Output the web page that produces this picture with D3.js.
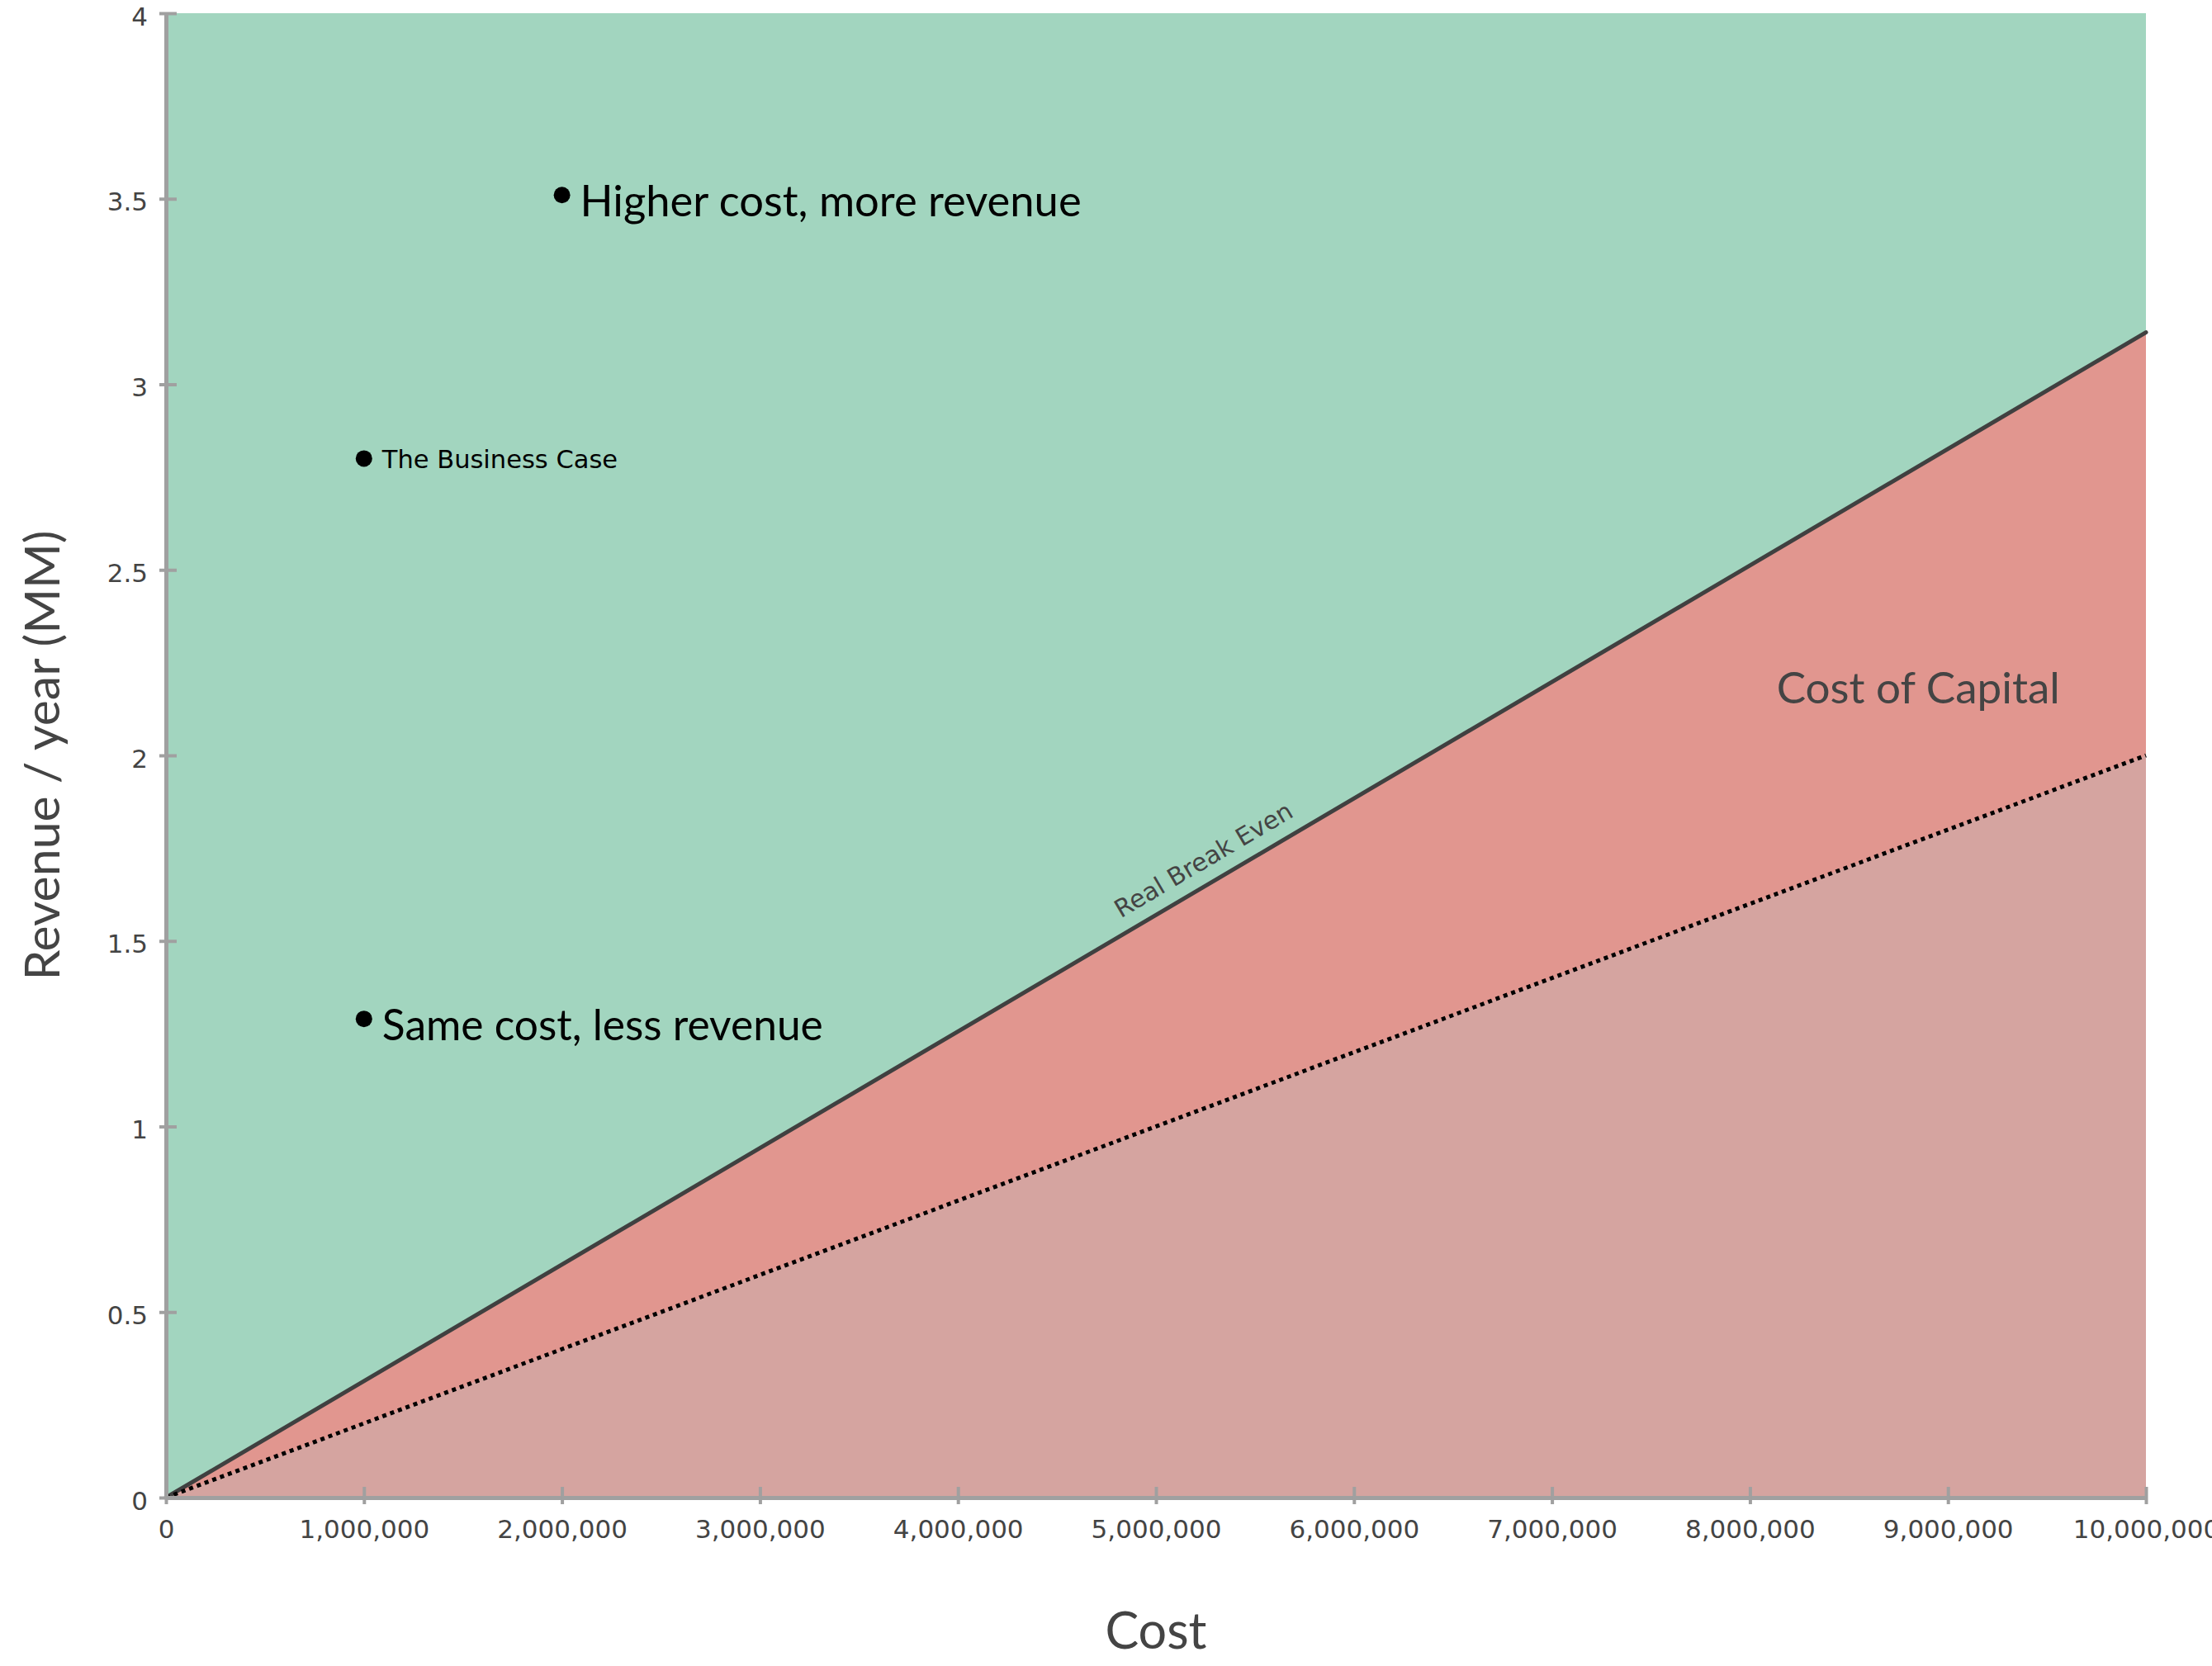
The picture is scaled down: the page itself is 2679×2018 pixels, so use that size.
<!DOCTYPE html>
<html>
<head>
<meta charset="utf-8">
<script src="https://cdn.jsdelivr.net/npm/d3@7"></script>
<style>
  html, body { margin: 0; padding: 0; background: #ffffff; }
  svg { display: block; }
</style>
</head>
<body>
<svg id="chart" width="2679" height="2018"></svg>
<script>
// Axis domains and tick values
const costDomain = [0, 10000000];
const revenueDomain = [0, 4];
const xTickValues = [0, 1000000, 2000000, 3000000, 4000000, 5000000, 6000000, 7000000, 8000000, 9000000, 10000000];
const yTickValues = [0, 0.5, 1, 1.5, 2, 2.5, 3, 3.5, 4];

// Break-even lines (cost -> revenue per year, in MM)
const lineCost = [0, 10000000];
const realBreakEven = [0, 3.14];
const simpleBreakEven = [0, 2];
const profitCeiling = [4, 4];

// Scenario points
const scenarioNames = ["Higher cost, more revenue", "The Business Case", "Same cost, less revenue"];
const scenarioCost = [2000000, 1000000, 1000000];
const scenarioRevenue = [3.51, 2.8, 1.29];
const scenarioLarge = [true, false, true];

// Region labels
const capitalLabel = "Cost of Capital";
const capitalLabelPos = [8850000, 2.14];
const breakEvenLabel = "Real Break Even";
const breakEvenLabelCost = 5300000;

const svg = d3.select("#chart");
const x = d3.scaleLinear().domain(costDomain).range([201, 2599]);
const y = d3.scaleLinear().domain(revenueDomain).range([1814, 16]);

const humanist = "Lato, 'Open Sans', sans-serif";
const grotesk = "'DejaVu Sans', Verdana, sans-serif";

const rows = (vals) => lineCost.map((c, i) => ({ c, v: vals[i] }));
const area = d3.area().x(d => x(d.c)).y0(y(0)).y1(d => y(d.v));
const line = d3.line().x(d => x(d.c)).y(d => y(d.v));

// Filled regions
svg.append("path").attr("d", area(rows(profitCeiling))).attr("fill", "#a2d5bf");
svg.append("path").attr("d", area(rows(realBreakEven))).attr("fill", "#e1968f");
svg.append("path").attr("d", area(rows(simpleBreakEven))).attr("fill", "#d5a4a0");

// Break-even lines
svg.append("path").attr("d", line(rows(realBreakEven)))
  .attr("fill", "none").attr("stroke", "#404040").attr("stroke-width", 5)
  .attr("stroke-linecap", "round");
svg.append("path").attr("d", line(rows(simpleBreakEven)))
  .attr("fill", "none").attr("stroke", "#000").attr("stroke-width", 5)
  .attr("stroke-dasharray", "5 5");

// Axes
const xAxis = svg.append("g").attr("transform", `translate(0,${y(0)})`)
  .call(d3.axisBottom(x).tickValues(xTickValues).tickSizeOuter(0)
    .tickFormat(d3.format(",")));
xAxis.selectAll(".tick line").attr("y1", 8).attr("y2", -13);
xAxis.selectAll(".tick text").attr("y", 49).attr("dy", 0);

const yAxis = svg.append("g").attr("transform", `translate(${x(0)},0)`)
  .call(d3.axisLeft(y).tickValues(yTickValues).tickSizeOuter(0)
    .tickFormat(d => String(d)));
yAxis.selectAll(".tick line").attr("x1", -8).attr("x2", 13);
yAxis.selectAll(".tick text").attr("x", -22).attr("dy", 14);

[xAxis, yAxis].forEach(g => {
  g.select(".domain").attr("stroke", "#a0a0a0").attr("stroke-width", 5);
  g.selectAll(".tick line").attr("stroke", "#a0a0a0").attr("stroke-width", 4);
  g.selectAll(".tick text").attr("fill", "#444").style("font-family", grotesk).style("font-size", "31px");
});

// Axis titles
svg.append("text").attr("x", (x.range()[0] + x.range()[1]) / 2).attr("y", 1997)
  .attr("text-anchor", "middle").attr("fill", "#444")
  .style("font-family", humanist).style("font-size", "61px").text("Cost");
svg.append("text")
  .attr("transform", `translate(72,${(y.range()[0] + y.range()[1]) / 2}) rotate(-90)`)
  .attr("text-anchor", "middle").attr("fill", "#444")
  .style("font-family", humanist).style("font-size", "59px").text("Revenue / year (MM)");

// Region labels
svg.append("text").attr("x", x(capitalLabelPos[0])).attr("y", y(capitalLabelPos[1]))
  .attr("text-anchor", "middle").attr("fill", "#444")
  .style("font-family", humanist).style("font-size", "53px").text(capitalLabel);

const slope = Math.atan2(y(realBreakEven[1]) - y(realBreakEven[0]), x(lineCost[1]) - x(lineCost[0])) * 180 / Math.PI;
const lbRev = realBreakEven[1] * breakEvenLabelCost / lineCost[1];
svg.append("text")
  .attr("transform", `translate(${x(breakEvenLabelCost)},${y(lbRev)}) rotate(${slope})`)
  .attr("dy", -18).attr("text-anchor", "middle").attr("fill", "#444")
  .style("font-family", grotesk).style("font-size", "30px").text(breakEvenLabel);

// Scenario points
const pts = svg.append("g");
scenarioNames.forEach((name, i) => {
  const cx = x(scenarioCost[i]), cy = y(scenarioRevenue[i]);
  pts.append("circle").attr("cx", cx).attr("cy", cy).attr("r", 10).attr("fill", "#000");
  pts.append("text").attr("x", cx + 22).attr("y", cy + (scenarioLarge[i] ? 26 : 12))
    .attr("fill", "#000")
    .style("font-family", scenarioLarge[i] ? humanist : grotesk)
    .style("font-size", scenarioLarge[i] ? (i === 0 ? "52.5px" : "51.5px") : "30.5px")
    .text(name);
});
</script>
</body>
</html>
